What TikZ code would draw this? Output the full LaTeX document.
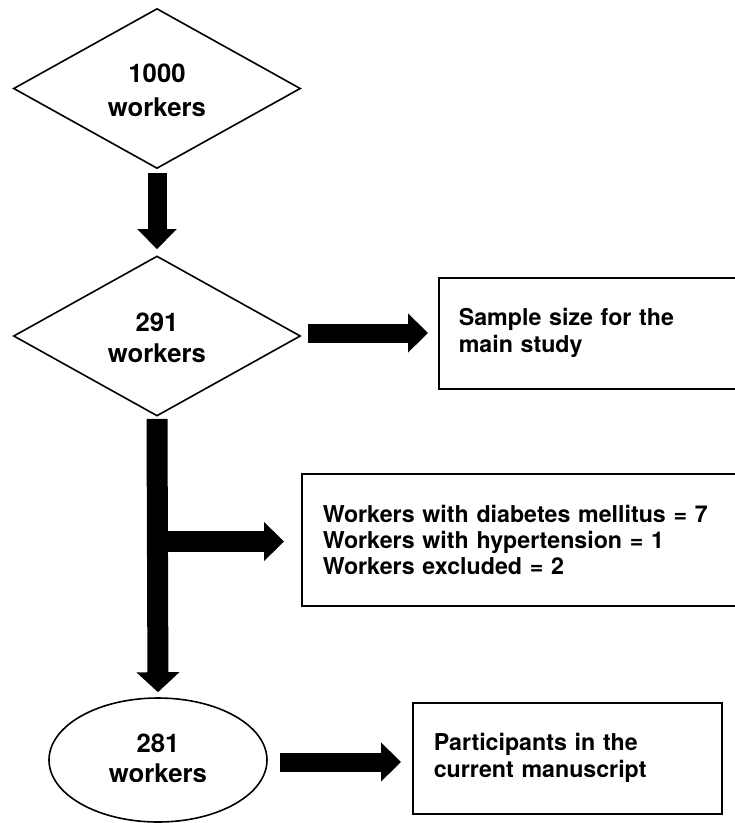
\documentclass[tikz,border=0pt]{standalone}
\usepackage{fontspec}
\setmainfont{TeX Gyre Heros}
\usetikzlibrary{shapes.geometric, arrows.meta, positioning}

\begin{document}
\begin{tikzpicture}[
    x=1pt, y=-1pt,
    % Styles
    count node/.style={diamond, draw, line width=1.6pt, align=center, font=\fontsize{25.7}{31}\selectfont\bfseries, text height=54pt, minimum width=287pt, minimum height=160pt, inner sep=0pt},
    final node/.style={ellipse, draw, line width=1.6pt, align=center, font=\fontsize{25.7}{30}\selectfont\bfseries, text height=46pt, minimum width=218pt, minimum height=124pt, inner sep=0pt},
    info node/.style={rectangle, draw, line width=1.6pt, anchor=north west, align=left, font=\fontsize{23.2}{27}\selectfont\bfseries, inner xsep=20pt, inner ysep=0pt},
    fat arrow/.style={line width=19pt, -{Triangle[length=20pt, width=38pt]}}
]

\useasboundingbox (0,0) rectangle (735,823);
\clip (0,0) rectangle (735,823);

% Left column
\node[count node, font=\fontsize{25.7}{34}\selectfont\bfseries, text height=57pt] (total) at (157,88.5) {1000\\workers};
\node[count node] (sample) at (157,336) {291\\workers};
\node[final node] (part) at (158,760) {281\\workers};

% Right column
\node[info node, text width=267pt, minimum height=111pt] (main) at (438,277) {Sample size for the\\main study};
\node[info node, text width=402pt, minimum height=132pt, inner xsep=21pt, font=\fontsize{23.2}{26}\selectfont\bfseries] (excl) at (301,473) {Workers with diabetes mellitus = 7\\Workers with hypertension = 1\\Workers excluded = 2};
\node[info node, text width=267pt, minimum height=111pt, inner xsep=21pt] (manu) at (412,702) {Participants in the\\current manuscript};

\coordinate (fork) at (158,541.5);

% Connections
\draw[fat arrow, shorten <=4pt, shorten >=6pt] (total.south) -- (sample.north);
\draw[fat arrow, shorten <=2pt, shorten >=5pt, line width=21pt, -{Triangle[length=20pt, width=42pt]}] (sample.south) -- (part.north);
\draw[fat arrow, shorten <=7pt, shorten >=10pt] ([yshift=3pt]sample.east) -- ([yshift=3pt]sample.east -| main.west);
\draw[fat arrow, line width=21pt, shorten >=17pt] (fork) -- (fork -| excl.west);
\draw[fat arrow, shorten <=12pt, shorten >=11pt] ([yshift=-2pt]part.east) -- ([yshift=-2pt]part.east -| manu.west);

\end{tikzpicture}
\end{document}
